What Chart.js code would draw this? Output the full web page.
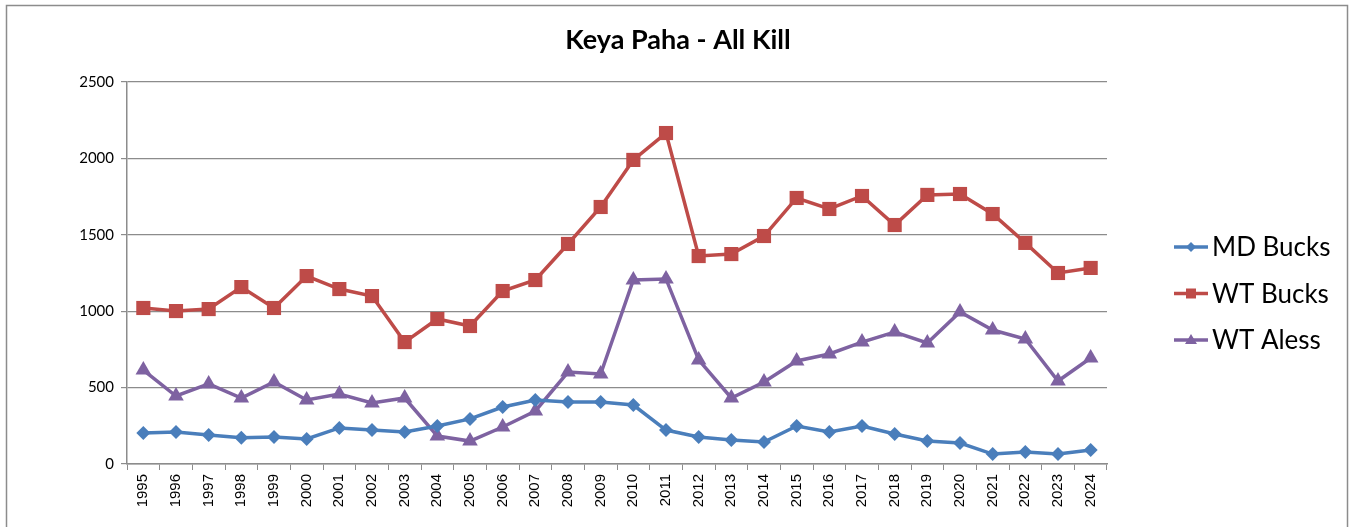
<!DOCTYPE html>
<html>
<head>
<meta charset="utf-8">
<title>Keya Paha - All Kill</title>
<script src="https://cdn.jsdelivr.net/npm/chart.js@4.4.1/dist/chart.umd.min.js"></script>
<style>
    html, body { margin: 0; padding: 0; background: #ffffff; overflow: hidden; }
    #wrap { position: relative; width: 1351px; height: 527px; }
</style>
</head>
<body>
<div id="wrap"><canvas id="grafico" width="1351" height="527"></canvas></div>
<script>
// Datos
const years = ['1995', '1996', '1997', '1998', '1999', '2000', '2001', '2002', '2003', '2004',
    '2005', '2006', '2007', '2008', '2009', '2010', '2011', '2012', '2013', '2014',
    '2015', '2016', '2017', '2018', '2019', '2020', '2021', '2022', '2023', '2024'];
const mdBucks = [203, 210, 190, 172, 177, 164, 236, 222, 210, 249,
    295, 373, 419, 406, 406, 386, 222, 177, 157, 144,
    249, 210, 249, 196, 150, 137, 65, 79, 65, 92];
const wtBucks = [1021, 1001, 1014, 1158, 1021, 1230, 1145, 1099, 798, 949,
    903, 1132, 1204, 1440, 1682, 1990, 2166, 1361, 1374, 1492,
    1741, 1669, 1754, 1564, 1761, 1767, 1636, 1447, 1250, 1283];
const wtAless = [615, 445, 524, 432, 537, 419, 458, 399, 432, 183,
    150, 242, 347, 602, 589, 1204, 1211, 681, 432, 537,
    674, 720, 798, 864, 792, 995, 877, 818, 543, 694];
const yTicks = [0, 500, 1000, 1500, 2000, 2500];

const titulo = 'Keya Paha - All Kill';
const seriesNames = ['MD Bucks', 'WT Bucks', 'WT Aless'];
const seriesColors = ['#4A7EBB', '#BE4B48', '#7E62A1'];
const seriesPoints = ['rectRot', 'rect', 'triangle'];

const gris = '#8c8c8c';
const fuente = 'Lato, "Noto Sans", sans-serif';

// Marco exterior, titulo y leyenda dibujados a mano
const extras = {
    id: 'extras',
    afterDraw(chart) {
        const ctx = chart.ctx;
        ctx.save();
        ctx.strokeStyle = gris;
        ctx.lineWidth = 1.5;
        ctx.strokeRect(6.5, 5.5, 1341, 600);

        ctx.fillStyle = '#000';
        ctx.font = 'bold 27px ' + fuente;
        ctx.textAlign = 'center';
        ctx.textBaseline = 'middle';
        ctx.fillText(titulo, 678, 40);

        ctx.font = '26px ' + fuente;
        ctx.textAlign = 'left';
        seriesNames.forEach(function (name, i) {
            const y = 247 + i * 46.5;
            ctx.strokeStyle = seriesColors[i];
            ctx.fillStyle = seriesColors[i];
            ctx.lineWidth = 3.5;
            ctx.beginPath();
            ctx.moveTo(1174, y);
            ctx.lineTo(1208, y);
            ctx.stroke();
            ctx.beginPath();
            if (i === 0) {
                ctx.moveTo(1191, y - 5); ctx.lineTo(1196, y); ctx.lineTo(1191, y + 5); ctx.lineTo(1186, y);
            } else if (i === 1) {
                ctx.rect(1186, y - 5, 10, 10);
            } else {
                ctx.moveTo(1191, y - 6); ctx.lineTo(1197, y + 4); ctx.lineTo(1185, y + 4);
            }
            ctx.closePath();
            ctx.fill();
            ctx.fillStyle = '#000';
            ctx.fillText(name, 1212, y + 1);
        });
        ctx.restore();
    }
};

const datasets = [mdBucks, wtBucks, wtAless].map(function (values, i) {
    return {
        label: seriesNames[i],
        data: values,
        borderColor: seriesColors[i],
        backgroundColor: seriesColors[i],
        borderWidth: 3.5,
        pointStyle: seriesPoints[i],
        pointRadius: [7, 10, 9][i],
        pointBorderWidth: 0,
        tension: 0
    };
});

new Chart(document.getElementById('grafico'), {
    type: 'line',
    data: { labels: years, datasets: datasets },
    options: {
        responsive: false,
        animation: false,
        layout: { padding: { top: 82, right: 244, bottom: 0, left: 0 } },
        plugins: {
            legend: { display: false },
            tooltip: { enabled: false },
            title: { display: false }
        },
        scales: {
            x: {
                offset: true,
                grid: { drawOnChartArea: false, offset: true, color: gris, tickLength: 6 },
                border: { color: gris, width: 1.5 },
                ticks: {
                    minRotation: 90, maxRotation: 90, autoSkip: false,
                    color: '#000', padding: 4,
                    font: { family: '"Liberation Sans", Arial, sans-serif', size: 15 }
                },
                afterFit: function (scale) { scale.height = 63; }
            },
            y: {
                min: 0, max: 2500,
                afterBuildTicks: function (scale) {
                    scale.ticks = yTicks.map(function (v) { return { value: v }; });
                },
                grid: { color: gris, lineWidth: 1.2, tickLength: 6 },
                border: { color: gris, width: 1.5 },
                ticks: {
                    color: '#000', padding: 7,
                    font: { family: fuente, size: 15 },
                    callback: function (v) { return String(v); }
                },
                afterFit: function (scale) { scale.width = 127; }
            }
        }
    },
    plugins: [extras]
});
</script>
</body>
</html>
